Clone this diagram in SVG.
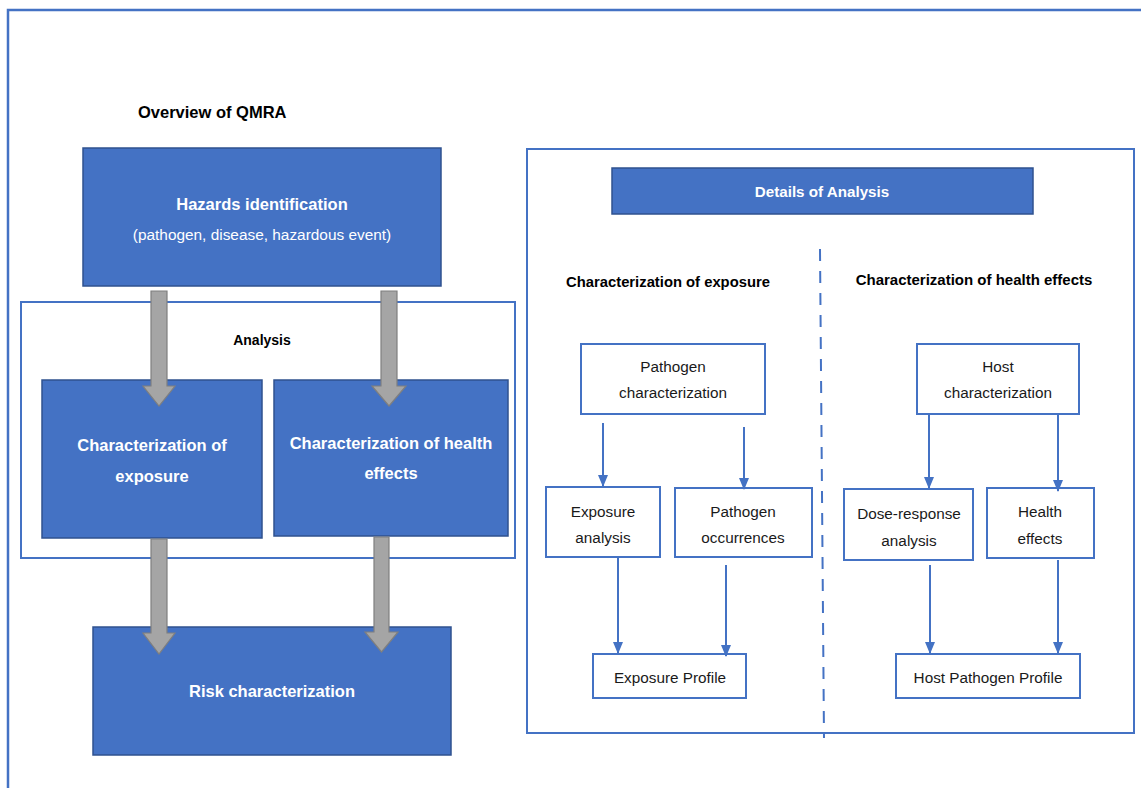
<svg xmlns="http://www.w3.org/2000/svg" width="1141" height="788" viewBox="0 0 1141 788">
<defs>
<marker id="ah" markerWidth="12" markerHeight="12" viewBox="0 0 12 12" refX="11" refY="6" orient="auto" markerUnits="userSpaceOnUse">
<path d="M0,1 L12,6 L0,11 Z" fill="#4472C4"/>
</marker>
<style>
.blue{fill:#4472C4;stroke:#2F528F;stroke-width:1.5}
.frame{fill:none;stroke:#4472C4;stroke-width:2}
.wbox{fill:#FFFFFF;stroke:#4472C4;stroke-width:2}
.garrow{fill:#A5A5A5;stroke:#7F7F7F;stroke-width:1.2}
.conn{fill:none;stroke:#4472C4;stroke-width:2;marker-end:url(#ah)}
.tw{font-family:"Liberation Sans",Arial,sans-serif;fill:#FFFFFF;text-anchor:middle}
.tb{font-family:"Liberation Sans",Arial,sans-serif;fill:#000000;font-weight:bold}
.tr{font-family:"Liberation Sans",Arial,sans-serif;fill:#1A1A1A;font-size:15.3px;text-anchor:middle}
.big{font-size:16.5px;font-weight:bold}
</style>
</defs>
<rect width="1141" height="788" fill="#FFFFFF"/>
<path d="M8,790 V10 H1143" fill="none" stroke="#4472C4" stroke-width="2.5"/>

<text class="tb" x="138" y="118" font-size="16.5">Overview of QMRA</text>

<g id="analysis-frame">
<rect class="frame" x="21" y="302" width="494" height="256"/>
<text class="tb" x="262" y="345" font-size="14" text-anchor="middle">Analysis</text>
</g>

<g id="hazards">
<rect class="blue" x="83" y="148" width="358" height="138"/>
<text class="tw big" x="262" y="210">Hazards identification</text>
<text class="tw" x="262" y="240" font-size="15.4">(pathogen, disease, hazardous event)</text>
</g>

<g id="char-exposure">
<rect class="blue" x="42" y="380" width="220" height="158"/>
<text class="tw big" x="152" y="451">Characterization of</text>
<text class="tw big" x="152" y="482">exposure</text>
</g>

<g id="char-health">
<rect class="blue" x="274" y="380" width="234" height="156"/>
<text class="tw big" x="391" y="449">Characterization of health</text>
<text class="tw big" x="391" y="479">effects</text>
</g>

<g id="risk">
<rect class="blue" x="93" y="627" width="358" height="128"/>
<text class="tw big" x="272" y="697">Risk characterization</text>
</g>

<g id="block-arrows">
<path class="garrow" d="M151,291 H167 V386 H175 L159,406 L143,386 H151 Z"/>
<path class="garrow" d="M381,291 H397 V386 H406 L389,406 L372,386 H381 Z"/>
<path class="garrow" d="M151,539 H167 V633 H175 L159,654 L143,633 H151 Z"/>
<path class="garrow" d="M374,537 H389 V632 H398 L381.5,652 L365,632 H374 Z"/>
</g>

<g id="details-panel">
<rect class="frame" x="527" y="149" width="607" height="584"/>
</g>

<g id="details-title">
<rect class="blue" x="612" y="168" width="421" height="46"/>
<text class="tw" x="822" y="197" font-size="15.2" font-weight="bold">Details of Analysis</text>
</g>

<line x1="820" y1="249" x2="824" y2="738" stroke="#4472C4" stroke-width="2" stroke-dasharray="12,10"/>

<text class="tb" x="668" y="287" font-size="14.8" text-anchor="middle">Characterization  of exposure</text>
<text class="tb" x="974" y="285" font-size="15" text-anchor="middle">Characterization  of health effects</text>

<g id="pathogen-char">
<rect class="wbox" x="581" y="344" width="184" height="70"/>
<text class="tr" x="673" y="372">Pathogen</text>
<text class="tr" x="673" y="398">characterization</text>
</g>

<g id="host-char">
<rect class="wbox" x="917" y="344" width="162" height="70"/>
<text class="tr" x="998" y="372">Host</text>
<text class="tr" x="998" y="398">characterization</text>
</g>

<g id="exposure-analysis">
<rect class="wbox" x="546" y="487" width="114" height="70"/>
<text class="tr" x="603" y="517">Exposure</text>
<text class="tr" x="603" y="543">analysis</text>
</g>

<g id="pathogen-occ">
<rect class="wbox" x="675" y="488" width="137" height="69"/>
<text class="tr" x="743" y="517">Pathogen</text>
<text class="tr" x="743" y="543">occurrences</text>
</g>

<g id="dose-response">
<rect class="wbox" x="844" y="489" width="129" height="71"/>
<text class="tr" x="909" y="519">Dose-response</text>
<text class="tr" x="909" y="546">analysis</text>
</g>

<g id="health-effects">
<rect class="wbox" x="987" y="488" width="107" height="70"/>
<text class="tr" x="1040" y="517">Health</text>
<text class="tr" x="1040" y="544">effects</text>
</g>

<g id="exposure-profile">
<rect class="wbox" x="593" y="654" width="153" height="44"/>
<text class="tr" x="670" y="683">Exposure Profile</text>
</g>

<g id="host-pathogen-profile">
<rect class="wbox" x="896" y="654" width="184" height="44"/>
<text class="tr" x="988" y="683">Host Pathogen  Profile</text>
</g>

<g id="connectors">
<line class="conn" x1="603" y1="423" x2="603" y2="486"/>
<line class="conn" x1="744" y1="427" x2="744" y2="489"/>
<line class="conn" x1="929" y1="414" x2="929" y2="488"/>
<line class="conn" x1="1058" y1="414" x2="1058" y2="491"/>
<line class="conn" x1="618" y1="557" x2="618" y2="653"/>
<line class="conn" x1="726" y1="565" x2="726" y2="656"/>
<line class="conn" x1="930" y1="565" x2="930" y2="653"/>
<line class="conn" x1="1058" y1="560" x2="1058" y2="653"/>
</g>
</svg>
